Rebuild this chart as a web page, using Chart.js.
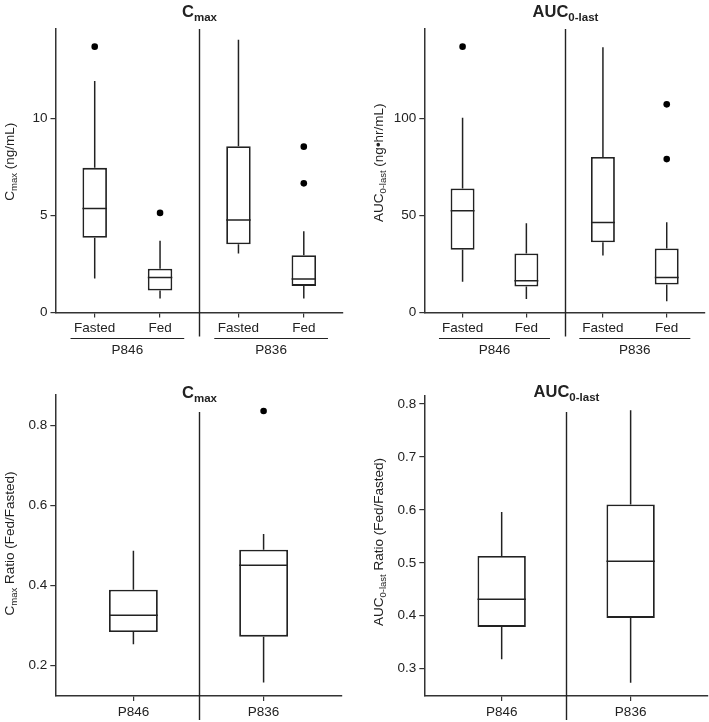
<!DOCTYPE html>
<html lang="en">
<head>
<meta charset="UTF-8">
<title>Cmax and AUC box plots</title>
<script src="https://cdn.jsdelivr.net/npm/chart.js"></script>
<style>
  html, body { margin: 0; padding: 0; background: #fff; }
  .wrap { position: relative; width: 709px; height: 722px; }
  .wrap canvas { position: absolute; left: 0; top: 0; }
</style>
</head>
<body>
<div class="wrap">
  <canvas id="cmaxChart" width="709" height="722"></canvas>
  <canvas id="aucChart" width="709" height="722"></canvas>
  <canvas id="cmaxRatioChart" width="709" height="722"></canvas>
  <canvas id="aucRatioChart" width="709" height="722"></canvas>
</div>
<script>
// ---- data ----
const groups = ['P846', 'P836'];
const meals = ['Fasted', 'Fed', 'Fasted', 'Fed'];
const mealPos = [1, 2, 3.2, 4.2];   // two facets side by side, split at 2.6
const ratioPos = [1, 2];

// Cmax (ng/mL): P846 Fasted, P846 Fed, P836 Fasted, P836 Fed
const cmaxLow  = [1.75, 0.72, 3.04, 0.72];
const cmaxQ1   = [3.85, 1.13, 3.51, 1.37];
const cmaxMed  = [5.36, 1.80, 4.77, 1.72];
const cmaxQ3   = [7.45, 2.25, 8.56, 2.95];
const cmaxHigh = [11.92, 3.69, 14.04, 4.19];
const cmaxOutliers = [[0, 13.69], [1, 5.13], [3, 8.54], [3, 6.65]];
const cmaxTicks = [0, 5, 10];

// AUC0-last (ng*hr/mL)
const aucLow  = [15.8, 7.0, 29.4, 5.8];
const aucQ1   = [32.3, 13.4, 36.2, 14.4];
const aucMed  = [52.4, 16.3, 46.4, 18.0];
const aucQ3   = [63.9, 30.4, 80.1, 33.0];
const aucHigh = [100.3, 45.9, 136.6, 46.5];
const aucOutliers = [[0, 136.9], [3, 107.2], [3, 79.0]];
const aucTicks = [0, 50, 100];

// Cmax ratio (Fed/Fasted): P846, P836
const cmaxRatioLow  = [0.2525, 0.1565];
const cmaxRatioQ1   = [0.283, 0.2715];
const cmaxRatioMed  = [0.325, 0.45];
const cmaxRatioQ3   = [0.389, 0.489];
const cmaxRatioHigh = [0.4865, 0.528];
const cmaxRatioOutliers = [[1, 0.836]];
const cmaxRatioTicks = [0.2, 0.4, 0.6, 0.8];

// AUC0-last ratio (Fed/Fasted): P846, P836
const aucRatioLow  = [0.318, 0.2736];
const aucRatioQ1   = [0.379, 0.396];
const aucRatioMed  = [0.431, 0.503];
const aucRatioQ3   = [0.513, 0.610];
const aucRatioHigh = [0.596, 0.788];
const aucRatioOutliers = [];
const aucRatioTicks = [0.3, 0.4, 0.5, 0.6, 0.7, 0.8];

// ---- styling ----
const FAM = "'Liberation Sans', Arial, Helvetica, sans-serif";
const INK = '#222';
const AXIS = '#333';
const HALF_BOX = 0.1875;  // half of box width in x units

Chart.defaults.font.family = FAM;
Chart.defaults.font.size = 13.5;
Chart.defaults.color = INK;

function drawRich(ctx, parts, x, y) {
  // x = centre, y = baseline
  let w = 0;
  parts.forEach(p => { ctx.font = p.font; w += ctx.measureText(p.text).width; });
  let cx = x - w / 2;
  parts.forEach(p => {
    ctx.font = p.font;
    ctx.fillText(p.text, cx, y + (p.dy || 0));
    cx += ctx.measureText(p.text).width;
  });
}

const decoPlugin = {
  id: 'deco',
  afterDraw(chart, args, opts) {
    const ctx = chart.ctx;
    const xs = chart.scales.x;
    const area = chart.chartArea;
    ctx.save();
    ctx.fillStyle = INK;
    ctx.strokeStyle = INK;
    ctx.textAlign = 'left';
    ctx.textBaseline = 'alphabetic';

    // facet divider
    const dx = Math.round(xs.getPixelForValue(opts.divider)) + 0.5;
    ctx.lineWidth = 1.4;
    ctx.beginPath();
    ctx.moveTo(dx, area.top + opts.dividerTop);
    ctx.lineTo(dx, area.bottom + opts.dividerBottom);
    ctx.stroke();

    // panel title, centred on the divider
    drawRich(ctx, opts.title, dx, opts.titleY);

    // y axis title (rotated)
    ctx.save();
    ctx.translate(area.left - 41.5, (area.top + area.bottom) / 2 + opts.yTitleShift);
    ctx.rotate(-Math.PI / 2);
    drawRich(ctx, opts.yTitle, 0, 0);
    ctx.restore();

    // group lines and labels under the tick labels
    (opts.groups || []).forEach(g => {
      const x0 = xs.getPixelForValue(g.center - 0.87);
      const x1 = xs.getPixelForValue(g.center + 0.87);
      const ly = Math.round(area.bottom + 25.5) + 0.5;
      ctx.lineWidth = 1.2;
      ctx.beginPath();
      ctx.moveTo(x0, ly);
      ctx.lineTo(x1, ly);
      ctx.stroke();
      ctx.font = '13.5px ' + FAM;
      ctx.textAlign = 'center';
      ctx.textBaseline = 'middle';
      ctx.fillText(g.label, xs.getPixelForValue(g.center), area.bottom + 38);
      ctx.textAlign = 'left';
      ctx.textBaseline = 'alphabetic';
    });
    ctx.restore();
  }
};

function boxDatasets(pos, low, q1, med, q3, high, outliers) {
  const whiskers = [];
  const medians = [];
  pos.forEach((p, i) => {
    whiskers.push({x: p, y: high[i]}, {x: p, y: q3[i]}, {x: p, y: null},
                  {x: p, y: q1[i]}, {x: p, y: low[i]}, {x: p, y: null});
    medians.push({x: p - HALF_BOX, y: med[i]}, {x: p + HALF_BOX, y: med[i]}, {x: p, y: null});
  });
  return [
    {
      type: 'bar',
      data: pos.map((p, i) => ({x: p, y: [q1[i], q3[i]]})),
      backgroundColor: '#fff',
      borderColor: INK,
      borderWidth: 1.8,
      borderSkipped: false,
      categoryPercentage: 1,
      barPercentage: 0.375,
      order: 3
    },
    {
      type: 'line',
      data: whiskers,
      borderColor: INK,
      borderWidth: 1.5,
      pointRadius: 0,
      spanGaps: false,
      order: 2
    },
    {
      type: 'line',
      data: medians,
      borderColor: INK,
      borderWidth: 1.5,
      pointRadius: 0,
      spanGaps: false,
      order: 1
    },
    {
      type: 'scatter',
      data: outliers.map(o => ({x: pos[o[0]], y: o[1]})),
      backgroundColor: '#000',
      borderWidth: 0,
      pointRadius: 3.3,
      order: 0
    }
  ];
}

function makePanel(id, cfg) {
  const a = cfg.area;
  new Chart(document.getElementById(id), {
    type: 'bar',
    data: { datasets: cfg.datasets },
    options: {
      responsive: false,
      animation: false,
      events: [],
      layout: {
        padding: { left: a.l - 40, right: 709 - a.r, top: a.t, bottom: 722 - a.b - 20 }
      },
      plugins: {
        legend: { display: false },
        tooltip: { enabled: false },
        deco: cfg.deco
      },
      scales: {
        x: {
          type: 'linear',
          min: 0.4,
          max: cfg.xMax,
          offset: false,
          afterFit: s => { s.height = 20; },
          afterBuildTicks: s => { s.ticks = cfg.xPos.map(v => ({value: v})); },
          ticks: {
            autoSkip: false,
            maxRotation: 0,
            padding: 3,
            color: INK,
            callback: (v, i) => cfg.xLabels[i]
          },
          grid: { display: true, drawOnChartArea: false, drawTicks: true, tickLength: 5, color: AXIS, lineWidth: 1.2, offset: false },
          border: { display: true, color: AXIS, width: 1.5 }
        },
        y: {
          type: 'linear',
          min: cfg.yMin,
          max: cfg.yMax,
          afterFit: s => { s.width = 40; },
          afterBuildTicks: s => { s.ticks = cfg.yTicks.map(v => ({value: v})); },
          ticks: {
            padding: 3,
            color: INK,
            callback: v => String(v)
          },
          grid: { display: true, drawOnChartArea: false, drawTicks: true, tickLength: 5, color: AXIS, lineWidth: 1.2 },
          border: { display: true, color: AXIS, width: 1.5 }
        }
      }
    },
    plugins: [decoPlugin]
  });
}

const titleFont = 'bold 16.5px ' + FAM;
const titleSub = 'bold 11.5px ' + FAM;
const axFont = '13.5px ' + FAM;
const axSub = '9.5px ' + FAM;
const groupDefs = [
  {label: groups[0], center: 1.5},
  {label: groups[1], center: 3.7}
];

makePanel('cmaxChart', {
  area: {l: 55.5, r: 343, t: 29, b: 312.5},
  xMax: 4.8, xPos: mealPos, xLabels: meals,
  yMin: 0, yMax: 14.6, yTicks: cmaxTicks,
  datasets: boxDatasets(mealPos, cmaxLow, cmaxQ1, cmaxMed, cmaxQ3, cmaxHigh, cmaxOutliers),
  deco: {
    divider: 2.6, dividerTop: 0, dividerBottom: 24,
    title: [{text: 'C', font: titleFont}, {text: 'max', font: titleSub, dy: 4}],
    titleY: 17,
    yTitle: [{text: 'C', font: axFont}, {text: 'max', font: axSub, dy: 3}, {text: ' (ng/mL)', font: axFont}],
    yTitleShift: -9,
    groups: groupDefs
  }
});

makePanel('aucChart', {
  area: {l: 424.3, r: 708, t: 29, b: 312.5},
  xMax: 4.8, xPos: mealPos, xLabels: meals,
  yMin: 0, yMax: 146, yTicks: aucTicks,
  datasets: boxDatasets(mealPos, aucLow, aucQ1, aucMed, aucQ3, aucHigh, aucOutliers),
  deco: {
    divider: 2.6, dividerTop: 0, dividerBottom: 24,
    title: [{text: 'AUC', font: titleFont}, {text: '0-last', font: titleSub, dy: 4}],
    titleY: 17,
    yTitle: [{text: 'AUC', font: axFont}, {text: '0-last', font: axSub, dy: 3}, {text: ' (ng\u2022hr/mL)', font: axFont}],
    yTitleShift: -8,
    groups: groupDefs
  }
});

makePanel('cmaxRatioChart', {
  area: {l: 55.3, r: 341.7, t: 395, b: 696},
  xMax: 2.6, xPos: ratioPos, xLabels: groups,
  yMin: 0.123, yMax: 0.876, yTicks: cmaxRatioTicks,
  datasets: boxDatasets(ratioPos, cmaxRatioLow, cmaxRatioQ1, cmaxRatioMed, cmaxRatioQ3, cmaxRatioHigh, cmaxRatioOutliers),
  deco: {
    divider: 1.5, dividerTop: 17, dividerBottom: 24,
    title: [{text: 'C', font: titleFont}, {text: 'max', font: titleSub, dy: 4}],
    titleY: 398,
    yTitle: [{text: 'C', font: axFont}, {text: 'max', font: axSub, dy: 3}, {text: ' Ratio (Fed/Fasted)', font: axFont}],
    yTitleShift: -2
  }
});

makePanel('aucRatioChart', {
  area: {l: 424.3, r: 708, t: 396, b: 696},
  xMax: 2.6, xPos: ratioPos, xLabels: groups,
  yMin: 0.2485, yMax: 0.815, yTicks: aucRatioTicks,
  datasets: boxDatasets(ratioPos, aucRatioLow, aucRatioQ1, aucRatioMed, aucRatioQ3, aucRatioHigh, aucRatioOutliers),
  deco: {
    divider: 1.5, dividerTop: 16, dividerBottom: 24,
    title: [{text: 'AUC', font: titleFont}, {text: '0-last', font: titleSub, dy: 4}],
    titleY: 397,
    yTitle: [{text: 'AUC', font: axFont}, {text: '0-last', font: axSub, dy: 3}, {text: ' Ratio (Fed/Fasted)', font: axFont}],
    yTitleShift: -4
  }
});
</script>
</body>
</html>
